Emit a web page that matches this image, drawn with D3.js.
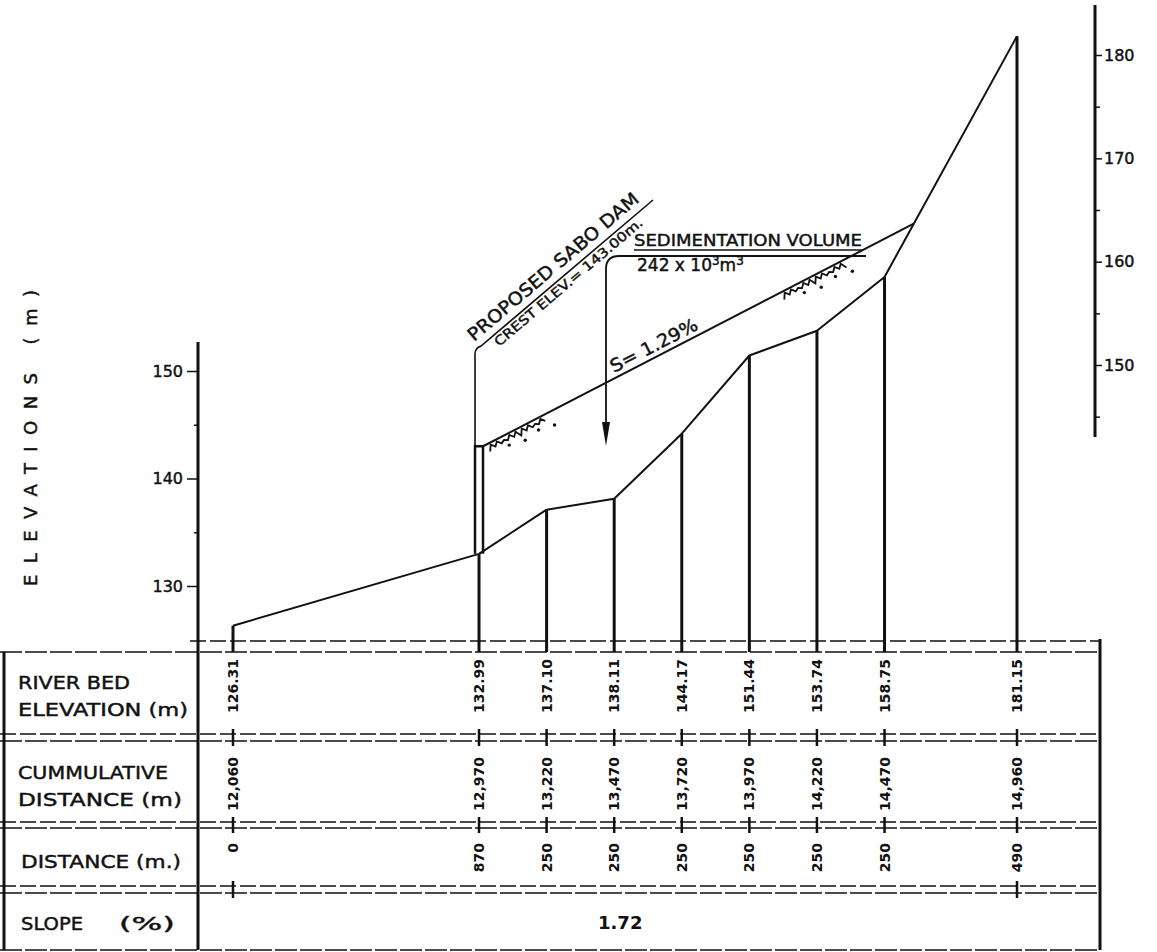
<!DOCTYPE html>
<html>
<head>
<meta charset="utf-8">
<script src="https://cdn.jsdelivr.net/npm/d3@7"></script>
<style>
  html, body { margin: 0; padding: 0; background: #fff; }
  svg { display: block; }
  text { fill: #111; font-family: "DejaVu Sans", "Liberation Sans", sans-serif; }
  text.ink { stroke: #111; stroke-width: 0.45px; }
</style>
</head>
<body>
<svg id="chart" width="1157" height="952"></svg>
<script>
// ---- River bed profile stations ----
const riverBedElevation = [126.31, 132.99, 137.10, 138.11, 144.17, 151.44, 153.74, 158.75, 181.15];
const cumulativeDistance = [12060, 12970, 13220, 13470, 13720, 13970, 14220, 14470, 14960];
const stationDistance = [0, 870, 250, 250, 250, 250, 250, 250, 490];
const elevationLabels = ["126.31", "132.99", "137.10", "138.11", "144.17", "151.44", "153.74", "158.75", "181.15"];
const cumulativeLabels = ["12,060", "12,970", "13,220", "13,470", "13,720", "13,970", "14,220", "14,470", "14,960"];
const distanceLabels = ["0", "870", "250", "250", "250", "250", "250", "250", "490"];
const averageSlope = "1.72";

// ---- Axis ticks ----
const leftTicks = [130, 140, 150];
const leftMinorTicks = [135, 145];
const rightTicks = [150, 160, 170, 180];
const rightMinorTicks = [145, 155, 165, 175];

// ---- Proposed sabo dam and sediment wedge ----
const damStation = 12970;
const damCrest = 143.00;
const sedimentStations = [12970, 14578];
const sedimentElevations = [143.00, 163.7];
const sedimentSlope = "1.29";

const svg = d3.select("#chart");
const ink = "#111";

// Scales
const x = d3.scaleLinear().domain([12060, 14960]).range([233, 1017]);
const y = d3.scaleLinear().domain([130, 150]).range([586, 371]);
const yRight = d3.scaleLinear().domain([150, 180]).range([365, 55]);

// Table layout
const tableTop = 652;
const tableBottom = 950;
const rowPairs = [[734, 741], [822, 828], [886, 893]];
const tableLeft = 4, tableDivider = 198, tableRight = 1100;

// ---------- Elevation axes ----------
svg.append("line").attr("x1", tableDivider).attr("x2", tableDivider)
  .attr("y1", 342).attr("y2", tableBottom)
  .attr("stroke", ink).attr("stroke-width", 3);

const leftAxis = svg.append("g").attr("transform", `translate(${tableDivider},0)`)
  .call(d3.axisLeft(y).tickValues(leftTicks).tickSize(11).tickPadding(4).tickFormat(d3.format("d")));
leftAxis.select(".domain").remove();
leftAxis.selectAll("line").attr("stroke", ink).attr("stroke-width", 1.5);
leftAxis.selectAll("text").attr("class", "ink")
  .style("font-size", "16px").style("font-family", "DejaVu Sans").attr("fill", ink);

const leftMinor = svg.append("g").attr("transform", `translate(${tableDivider},0)`)
  .call(d3.axisLeft(y).tickValues(leftMinorTicks).tickSize(4).tickFormat(""));
leftMinor.select(".domain").remove();
leftMinor.selectAll("line").attr("stroke", ink).attr("stroke-width", 1.5);

svg.append("line").attr("x1", 1095).attr("x2", 1095)
  .attr("y1", 5).attr("y2", 437)
  .attr("stroke", ink).attr("stroke-width", 3);

const rightAxis = svg.append("g").attr("transform", "translate(1095,0)")
  .call(d3.axisRight(yRight).tickValues(rightTicks).tickSize(7).tickPadding(2).tickFormat(d3.format("d")));
rightAxis.select(".domain").remove();
rightAxis.selectAll("line").attr("stroke", ink).attr("stroke-width", 1.5);
rightAxis.selectAll("text").attr("class", "ink")
  .style("font-size", "16px").style("font-family", "DejaVu Sans").attr("fill", ink);

const rightMinor = svg.append("g").attr("transform", "translate(1095,0)")
  .call(d3.axisRight(yRight).tickValues(rightMinorTicks).tickSize(5).tickFormat(""));
rightMinor.select(".domain").remove();
rightMinor.selectAll("line").attr("stroke", ink).attr("stroke-width", 1.5);

svg.append("text").attr("class", "ink")
  .attr("transform", "translate(37,586) rotate(-90)")
  .attr("text-anchor", "start")
  .attr("textLength", 296).attr("lengthAdjust", "spacing")
  .style("font-size", "18px")
  .text("ELEVATIONS (m)");

// ---------- River bed profile ----------
const stations = riverBedElevation.map((e, i) => ({ e, d: cumulativeDistance[i] }));

svg.selectAll("line.station").data(stations).join("line")
  .attr("class", "station")
  .attr("x1", d => x(d.d)).attr("x2", d => x(d.d))
  .attr("y1", d => y(d.e)).attr("y2", tableTop)
  .attr("stroke", ink).attr("stroke-width", 3);

svg.append("path").datum(stations)
  .attr("fill", "none").attr("stroke", ink).attr("stroke-width", 2)
  .attr("stroke-linejoin", "round")
  .attr("d", d3.line().x(d => x(d.d)).y(d => y(d.e)));

// ---------- Sabo dam ----------
const damX = x(damStation);
const damBed = y(riverBedElevation[cumulativeDistance.indexOf(damStation)]);
svg.append("path")
  .attr("fill", "none").attr("stroke", ink).attr("stroke-width", 2.5)
  .attr("d", `M${damX - 4},${damBed} L${damX - 4},${y(damCrest)} L${damX + 4},${y(damCrest)} L${damX + 4},${damBed}`);

// Sediment surface
const sediment = sedimentStations.map((d, i) => ({ d, e: sedimentElevations[i] }));
svg.append("path").datum(sediment)
  .attr("fill", "none").attr("stroke", ink).attr("stroke-width", 2)
  .attr("d", d3.line().x(d => x(d.d) + (d.d === damStation ? 4 : 0)).y(d => y(d.e)));

// Deposit texture just under the sediment surface
const sx0 = x(sediment[0].d) + 4, sy0 = y(sediment[0].e);
const sx1 = x(sediment[1].d), sy1 = y(sediment[1].e);
const len = Math.hypot(sx1 - sx0, sy1 - sy0);
const ux = (sx1 - sx0) / len, uy = (sy1 - sy0) / len;
const nx = -uy, ny = ux; // points downward from the surface
function texture(t0, t1) {
  const pts = [];
  for (let t = t0, k = 0; t <= t1; t += 3.5, k++) {
    const off = (k % 2 ? 2 : 6) + (k % 5 === 0 ? 2 : 0);
    pts.push([sx0 + ux * t + nx * off, sy0 + uy * t + ny * off]);
  }
  svg.append("path").attr("d", d3.line()(pts))
    .attr("fill", "none").attr("stroke", ink).attr("stroke-width", 1.8);
  [0.3, 0.55, 0.8, 1.05].forEach((f, i) => {
    const t = t0 + (t1 - t0) * f;
    svg.append("circle")
      .attr("cx", sx0 + ux * t + nx * (11 + (i % 2) * 3))
      .attr("cy", sy0 + uy * t + ny * (11 + (i % 2) * 3))
      .attr("r", 1.7).attr("fill", ink);
  });
}
texture(4, 70);
texture(335, 405);

// Dam leader and captions
const crestY = y(damCrest);
const bendY = 354;
const leadEnd = [653, 200];
const leadStart = [damX + 2, bendY - 8];
svg.append("path")
  .attr("fill", "none").attr("stroke", ink).attr("stroke-width", 1.6)
  .attr("d", `M${damX - 4},${crestY} L${damX - 4},${bendY} Q${damX - 4},${bendY - 6} ${leadStart[0]},${leadStart[1]} L${leadEnd[0]},${leadEnd[1]}`);
const leadAngle = Math.atan2(leadEnd[1] - leadStart[1], leadEnd[0] - leadStart[0]) * 180 / Math.PI;
svg.append("text").attr("class", "ink")
  .attr("transform", `translate(${damX - 5},${bendY - 12}) rotate(${leadAngle})`)
  .attr("textLength", 218).attr("lengthAdjust", "spacingAndGlyphs")
  .style("font-size", "18px")
  .text("PROPOSED SABO DAM");
svg.append("text").attr("class", "ink")
  .attr("transform", `translate(${damX + 20},${bendY - 7}) rotate(${leadAngle})`)
  .attr("textLength", 190).attr("lengthAdjust", "spacingAndGlyphs")
  .style("font-size", "13px")
  .text(`CREST ELEV.= ${damCrest.toFixed(2)}m.`);

// Sedimentation volume caption with leader arrow
svg.append("text").attr("class", "ink").attr("x", 634).attr("y", 246)
  .attr("textLength", 228).attr("lengthAdjust", "spacingAndGlyphs")
  .style("font-size", "16px")
  .text("SEDIMENTATION VOLUME");
svg.append("line").attr("x1", 634).attr("x2", 862).attr("y1", 250).attr("y2", 250)
  .attr("stroke", ink).attr("stroke-width", 1.5);
const vol = svg.append("text").attr("class", "ink").attr("x", 637).attr("y", 271).style("font-size", "17px");
vol.append("tspan").text("242 x 10");
vol.append("tspan").attr("dy", -6).style("font-size", "12px").text("3");
vol.append("tspan").attr("dy", 6).text("m");
vol.append("tspan").attr("dy", -6).style("font-size", "12px").text("3");
svg.append("path")
  .attr("fill", "none").attr("stroke", ink).attr("stroke-width", 1.8)
  .attr("d", "M866,256 L619,256 Q606,256 606,269 L606,426");
svg.append("path").attr("fill", ink)
  .attr("d", "M602,422 L610,422 L606,446 Z");

// Slope of deposit surface
const slopeT = 150;
const sAng = Math.atan2(sy1 - sy0, sx1 - sx0) * 180 / Math.PI;
svg.append("text").attr("class", "ink")
  .attr("transform", `translate(${sx0 + ux * slopeT - nx * 5},${sy0 + uy * slopeT - ny * 5}) rotate(${sAng})`)
  .attr("textLength", 96).attr("lengthAdjust", "spacingAndGlyphs")
  .style("font-size", "18px")
  .text(`S= ${sedimentSlope}%`);

// ---------- Data table ----------
const dash = "16,4";
// top double line
svg.append("line").attr("x1", 190).attr("x2", tableRight).attr("y1", 641).attr("y2", 641)
  .attr("stroke", ink).attr("stroke-width", 1.5).attr("stroke-dasharray", dash);
svg.append("line").attr("x1", 0).attr("x2", tableRight).attr("y1", tableTop).attr("y2", tableTop)
  .attr("stroke", ink).attr("stroke-width", 1.5).attr("stroke-dasharray", "22,3");
rowPairs.forEach(([a, b]) => {
  svg.append("line").attr("x1", 0).attr("x2", tableRight).attr("y1", a).attr("y2", a)
    .attr("stroke", ink).attr("stroke-width", 1.5).attr("stroke-dasharray", dash);
  svg.append("line").attr("x1", 0).attr("x2", tableRight).attr("y1", b).attr("y2", b)
    .attr("stroke", ink).attr("stroke-width", 1.5).attr("stroke-dasharray", "22,3");
});
svg.append("line").attr("x1", 0).attr("x2", tableRight).attr("y1", tableBottom).attr("y2", tableBottom)
  .attr("stroke", ink).attr("stroke-width", 1.5).attr("stroke-dasharray", "22,3");
svg.append("line").attr("x1", tableLeft).attr("x2", tableLeft).attr("y1", tableTop).attr("y2", tableBottom)
  .attr("stroke", ink).attr("stroke-width", 3);
svg.append("line").attr("x1", tableRight).attr("x2", tableRight).attr("y1", 639).attr("y2", tableBottom)
  .attr("stroke", ink).attr("stroke-width", 3);

// Station ticks across the row separators
stations.forEach((s, i) => {
  rowPairs.forEach(([a, b], r) => {
    if (r === 2 && i !== 0 && i !== stations.length - 1) return;
    svg.append("line").attr("x1", x(s.d)).attr("x2", x(s.d))
      .attr("y1", a - 5).attr("y2", b + 5)
      .attr("stroke", ink).attr("stroke-width", 2.5);
  });
});

// Row headings
const headings = [
  { t: "RIVER BED", y: 689, w: 112 },
  { t: "ELEVATION (m)", y: 716, w: 170 },
  { t: "CUMMULATIVE", y: 779, w: 150 },
  { t: "DISTANCE  (m)", y: 806, w: 164 },
  { t: "DISTANCE (m.)", y: 868, w: 160, x: 21 },
  { t: "SLOPE", y: 930, w: 62, x: 21 },
  { t: "(%)", y: 930, w: 56, x: 119 }
];
svg.selectAll("text.heading").data(headings).join("text")
  .attr("class", "heading ink")
  .attr("x", d => d.x || 18).attr("y", d => d.y)
  .attr("textLength", d => d.w).attr("lengthAdjust", "spacingAndGlyphs")
  .style("font-size", "18px")
  .text(d => d.t);

// Station values, written vertically
function columnLabels(labels, yPos, anchor) {
  svg.selectAll(null).data(labels).join("text")
    .attr("transform", (d, i) => `translate(${x(cumulativeDistance[i]) + 5},${yPos}) rotate(-90)`)
    .attr("text-anchor", anchor)
    .style("font-size", "14px").style("font-weight", "bold")
    .text(d => d);
}
columnLabels(elevationLabels, 713, "start");
columnLabels(cumulativeLabels, 811, "start");
columnLabels(distanceLabels, 843, "end");

svg.append("text").attr("x", 598).attr("y", 929)
  .style("font-size", "18px").style("font-weight", "bold")
  .text(averageSlope);
</script>
</body>
</html>
